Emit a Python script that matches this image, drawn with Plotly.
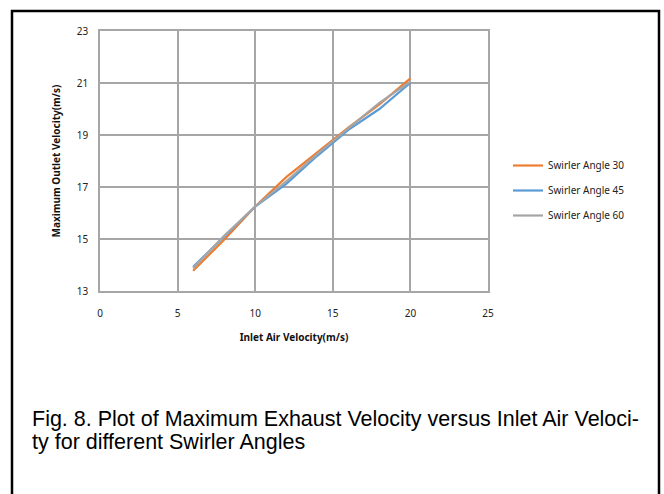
import plotly.graph_objects as go

inlet_velocity = [6, 8, 10, 12, 14, 16, 18, 20]
angle_30 = [13.78, 14.97, 16.25, 17.38, 18.33, 19.28, 20.18, 21.18]
angle_45 = [13.93, 15.10, 16.25, 17.12, 18.20, 19.20, 20.00, 21.01]
angle_60 = [13.88, 15.12, 16.25, 17.22, 18.27, 19.24, 20.24, 21.05]
series_names = ["Swirler Angle 30", "Swirler Angle 45", "Swirler Angle 60"]
series_colors = ["#ED7D31", "#5B9BD5", "#A5A5A5"]
x_ticks = [0, 5, 10, 15, 20, 25]
y_ticks = [13, 15, 17, 19, 21, 23]
caption_lines = ["Fig. 8. Plot of Maximum Exhaust Velocity versus Inlet Air Veloci-",
                 "ty for different Swirler Angles"]

W, H = 664, 494
L, R, T, B = 100, 488, 31, 291  # plot area pixels

def px(x):
    return (x - L) / (R - L)

def py(y):
    return (B - y) / (B - T)

fig = go.Figure()
for name, vals, col in zip(series_names, [angle_30, angle_45, angle_60], series_colors):
    fig.add_trace(go.Scatter(x=inlet_velocity, y=vals, mode="lines", name=name,
                             legendgroup=name,
                             line=dict(color=col, width=2.2)))

tick_font = dict(family="Noto Sans, DejaVu Sans, sans-serif", size=10, color="#222222")
title_font = dict(family="Noto Sans, DejaVu Sans, sans-serif", size=10, color="#111111")

fig.update_layout(
    width=W, height=H,
    margin=dict(l=L, r=W - R, t=T, b=H - B),
    paper_bgcolor="white", plot_bgcolor="white",
    showlegend=True,
    legend=dict(x=px(508), y=py(151), xanchor="left", yanchor="top",
                font=dict(family="Noto Sans, DejaVu Sans, sans-serif", size=10, color="#222222"),
                tracegroupgap=6, itemwidth=30, bgcolor="rgba(0,0,0,0)"),
    xaxis=dict(range=[0, 25], tickvals=x_ticks, showgrid=True, gridcolor="#A6A6A6", gridwidth=1.5,
               zeroline=False, showline=True, linecolor="#A6A6A6", linewidth=1.5, mirror=True,
               tickfont=tick_font, ticks="", ticklabelstandoff=12,
               title=dict(text="<b>Inlet Air Velocity(m/s)</b>", font=title_font, standoff=15)),
    yaxis=dict(range=[13, 23], tickvals=y_ticks, showgrid=True, gridcolor="#A6A6A6", gridwidth=1.5,
               zeroline=False, showline=True, linecolor="#A6A6A6", linewidth=1.5, mirror=True,
               tickfont=tick_font, ticks="", ticklabelstandoff=8,
               title=dict(text="<b>Maximum Outlet Velocity(m/s)</b>", font=title_font, standoff=14)),
)

# outer frame (left, top, right sides)
fig.add_shape(type="path", xref="paper", yref="paper",
              path=f"M {px(12)} {py(500)} L {px(12)} {py(11)} L {px(659)} {py(11)} L {px(659)} {py(500)}",
              line=dict(color="black", width=2.5))

for i, line_text in enumerate(caption_lines):
    fig.add_annotation(text=line_text, xref="paper", yref="paper", x=px(30), y=py(419 + 23 * i),
                       xanchor="left", yanchor="middle", align="left", showarrow=False,
                       font=dict(family="Liberation Sans, Arial, sans-serif",
                                 size=21.5, color="black"))

fig.write_html("out.html")
